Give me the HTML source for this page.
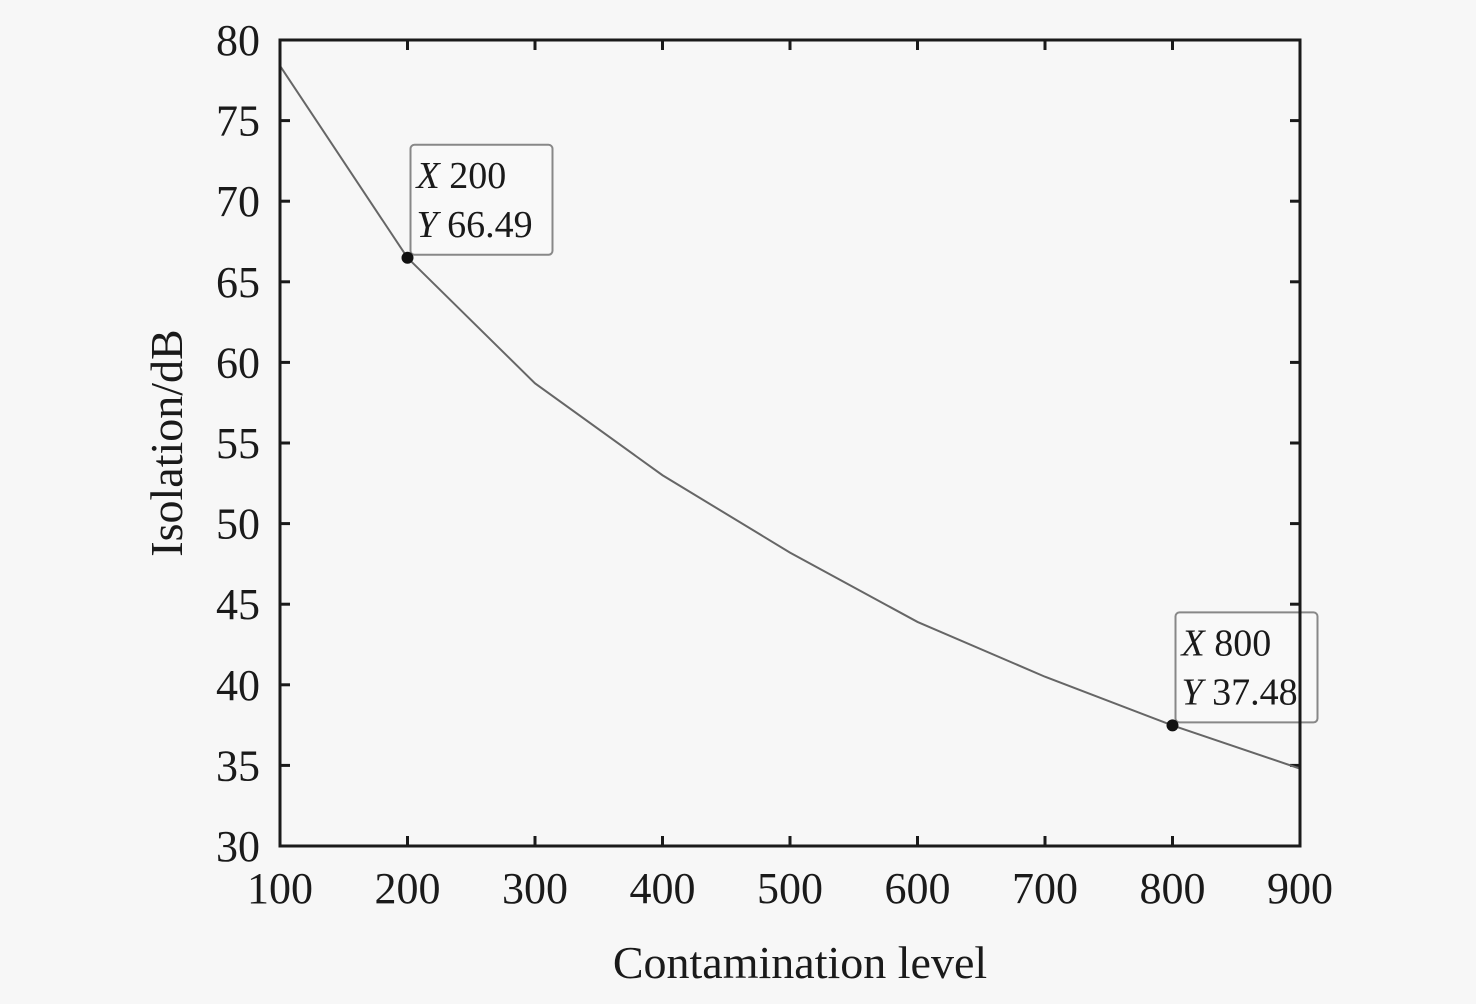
<!DOCTYPE html>
<html><head><meta charset="utf-8"><style>
html,body{margin:0;padding:0;background:#f7f7f7;}
svg{display:block;font-family:"Liberation Serif",serif;}
</style></head><body>
<svg id="chart" width="1476" height="1004" viewBox="0 0 1476 1004" xmlns="http://www.w3.org/2000/svg">
<rect width="1476" height="1004" fill="#f7f7f7"/>
<g id="ticks"></g>
<polyline id="line" fill="none" stroke="#666" stroke-width="2"/>
<g id="marks"></g>
<rect x="280" y="40" width="1020" height="806" fill="none" stroke="#1a1a1a" stroke-width="3"/>
<text x="800" y="978" font-size="46" text-anchor="middle" fill="#1a1a1a">Contamination level</text>
<text transform="translate(182,443) rotate(-90)" font-size="46" text-anchor="middle" fill="#1a1a1a">Isolation/dB</text>
</svg>
<script>
const xValues=[100,200,300,400,500,600,700,800,900];
const yValues=[78.4,66.49,58.7,53.0,48.2,43.9,40.5,37.48,34.8];
const xTicks=[100,200,300,400,500,600,700,800,900];
const yTicks=[30,35,40,45,50,55,60,65,70,75,80];
const annotations=[[200,66.49],[800,37.48]];
const X0=280,X1=1300,Y0=846,Y1=40;
function sx(v){return X0+(v-100)/800*(X1-X0);}
function sy(v){return Y0-(v-30)/50*(Y0-Y1);}
const NS="http://www.w3.org/2000/svg";
function mk(t,a,p){const e=document.createElementNS(NS,t);for(const k in a)e.setAttribute(k,a[k]);p.appendChild(e);return e;}
const tg=document.getElementById('ticks');
xTicks.forEach(v=>{
  const x=sx(v);
  const t=mk('line',{x1:x,x2:x,y1:Y0,y2:Y0-10,stroke:'#1a1a1a','stroke-width':3},tg);
  
  
  const t2=mk('line',{x1:x,x2:x,y1:Y1,y2:Y1+10,stroke:'#1a1a1a','stroke-width':3},tg);
  
  
  const l=mk('text',{x:x,y:903,'font-size':44,'text-anchor':'middle',fill:'#1a1a1a'},tg);
  l.textContent=v;
  
  
});
yTicks.forEach(v=>{
  const y=sy(v);
  const t=mk('line',{x1:X0,x2:X0+10,y1:y,y2:y,stroke:'#1a1a1a','stroke-width':3},tg);
  
  
  const t2=mk('line',{x1:X1,x2:X1-10,y1:y,y2:y,stroke:'#1a1a1a','stroke-width':3},tg);
  
  
  const l=mk('text',{x:260,y:y+15,'font-size':44,'text-anchor':'end',fill:'#1a1a1a'},tg);
  l.textContent=v;
  
  
});
document.getElementById('line').setAttribute('points',xValues.map((v,i)=>sx(v)+','+sy(yValues[i])).join(' '));
const mg=document.getElementById('marks');
annotations.forEach(a=>{
  const x=sx(a[0]),y=sy(a[1]);
  const g=mk('g',{},mg);
  
  
  mk('rect',{x:x+3,y:y-113,width:142,height:110,rx:4,fill:'#f9f9f9',stroke:'#888','stroke-width':2},g);
  const t1=mk('text',{x:x+9,y:y-70,'font-size':38,fill:'#1a1a1a'},g);
  t1.innerHTML='<tspan font-style="italic">X</tspan> '+a[0];
  const t2=mk('text',{x:x+9,y:y-21,'font-size':38,fill:'#1a1a1a'},g);
  t2.innerHTML='<tspan font-style="italic">Y</tspan> '+a[1].toFixed(2);
  mk('circle',{cx:x,cy:y,r:6,fill:'#111'},g);
});
</script>
</body></html>
